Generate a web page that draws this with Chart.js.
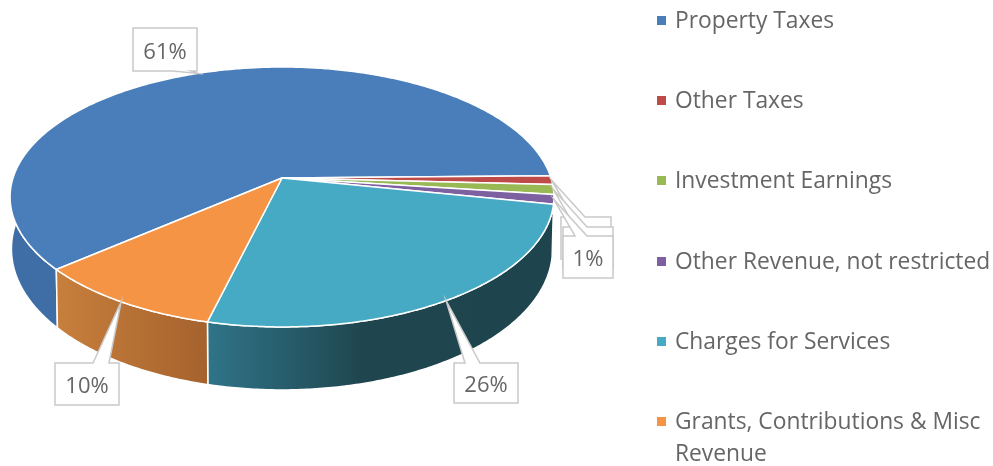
<!DOCTYPE html>
<html>
<head>
<meta charset="utf-8">
<script src="https://cdn.jsdelivr.net/npm/chart.js@4"></script>
<style>
  html, body { margin: 0; padding: 0; background: #fff; }
  canvas { display: block; }
</style>
</head>
<body>
<canvas id="myChart" width="993" height="466"></canvas>
<script>
const categories = [
  "Property Taxes",
  "Other Taxes",
  "Investment Earnings",
  "Other Revenue, not restricted",
  "Charges for Services",
  ["Grants, Contributions & Misc", "Revenue"],
];
const shares = [61, 1.1, 1.2, 1.2, 25.6, 9.9];
const topColors = ["#4a7ebb", "#be4b48", "#98b954", "#7d60a0", "#46aac4", "#f59444"];
const wallColors = [
  ["#3f6ea6", "#3f6ea6"],
  null,
  null,
  null,
  ["#2f7488", "#1f464f", "#1e444e"],
  ["#c77f3c", "#a5622d"],
];

// box of each data label: left, top, width, height, edge the pointer leaves from
const labelBoxes = [
  [133, 28, 64, 43, "bottom", 40, 58],
  [561, 217, 50, 42, "top", 12, 24],
  [563, 227, 50, 42, "top", 12, 24],
  [563, 236, 50, 42, "top", 12, 24],
  [454, 363, 64, 40, "top", 11, 26],
  [55, 363, 64, 42, "top", 38, 54],
];

const legendX = 657;
const legendRows = [20, 100, 180, 261, 341, 421];

// perspective of the disc, fitted to the ellipse in the picture
const apexX = 282;
const apexY = 178;
const radiusX = 269;
const radiusY = 101.2;
const tilt = -0.146;

function rim(angle) {
  const w = 1 + tilt * Math.sin(angle);
  return [
    apexX + (radiusX * Math.cos(angle)) / w,
    (apexY + radiusY * Math.sin(angle)) / w,
  ];
}

function floorRim(angle) {
  const [x, y] = rim(angle);
  return [apexX + (x - apexX) * 0.995, y + 50 + 13 * Math.sin(angle)];
}

function tracePoints(ctx, a, b, fn, first) {
  const steps = Math.max(2, Math.ceil(Math.abs(b - a) / 0.01));
  for (let i = 0; i <= steps; i++) {
    const [x, y] = fn(a + ((b - a) * i) / steps);
    if (i === 0 && first) ctx.moveTo(x, y);
    else ctx.lineTo(x, y);
  }
}

const tiltedPie = {
  id: "tiltedPie",
  beforeDatasetDraw(chart) {
    const ctx = chart.ctx;
    const arcs = chart.getDatasetMeta(0).data;
    const wallFrom = (10 * Math.PI) / 180;
    const wallTo = (188 * Math.PI) / 180;

    ctx.save();
    ctx.lineJoin = "round";

    arcs.forEach((arc, i) => {
      if (!wallColors[i]) return;
      // the rotation pushes the later slices past a full turn
      const turn = arc.startAngle >= Math.PI * 2 ? Math.PI * 2 : 0;
      const a = Math.max(arc.startAngle - turn, wallFrom);
      const b = Math.min(arc.endAngle - turn, wallTo);
      if (a >= b) return;
      const x0 = floorRim(b)[0];
      const x1 = floorRim(a)[0];
      const grad = ctx.createLinearGradient(Math.min(x0, x1), 0, Math.max(x0, x1), 0);
      wallColors[i].forEach((c, k) => {
        const stops = wallColors[i].length - 1;
        grad.addColorStop(k === 1 && stops === 2 ? 0.45 : k / stops, c);
      });
      ctx.beginPath();
      tracePoints(ctx, a, b, rim, true);
      tracePoints(ctx, b, a, floorRim, false);
      ctx.closePath();
      ctx.fillStyle = grad;
      ctx.fill();
      ctx.strokeStyle = "#fff";
      ctx.lineWidth = 1.5;
      ctx.stroke();
    });

    arcs.forEach((arc, i) => {
      ctx.beginPath();
      ctx.moveTo(apexX, apexY);
      tracePoints(ctx, arc.startAngle, arc.endAngle, rim, false);
      ctx.closePath();
      ctx.fillStyle = topColors[i];
      ctx.fill();
      ctx.strokeStyle = "#fff";
      ctx.lineWidth = 1.5;
      ctx.stroke();
    });

    ctx.restore();
    return false;
  },
  afterDatasetsDraw(chart) {
    const ctx = chart.ctx;
    const arcs = chart.getDatasetMeta(0).data;
    const total = shares.reduce((s, v) => s + v, 0);

    ctx.save();
    arcs.forEach((arc, i) => {
      const [tipX, tipY] = rim((arc.startAngle + arc.endAngle) / 2);
      const [x, y, w, h, edge, p0, p1] = labelBoxes[i];
      ctx.beginPath();
      ctx.moveTo(x, y);
      if (edge === "top") {
        ctx.lineTo(x + p0, y);
        ctx.lineTo(tipX, tipY);
        ctx.lineTo(x + p1, y);
      }
      ctx.lineTo(x + w, y);
      ctx.lineTo(x + w, y + h);
      if (edge === "bottom") {
        ctx.lineTo(x + p1, y + h);
        ctx.lineTo(tipX, tipY);
        ctx.lineTo(x + p0, y + h);
      }
      ctx.lineTo(x, y + h);
      ctx.closePath();
      ctx.fillStyle = "#fff";
      ctx.fill();
      ctx.strokeStyle = "#c9c9c9";
      ctx.lineWidth = 1.5;
      ctx.stroke();

      ctx.fillStyle = "#666";
      ctx.font = '22px "Open Sans"';
      ctx.textAlign = "center";
      ctx.textBaseline = "middle";
      ctx.fillText(Math.round((shares[i] / total) * 100) + "%", x + w / 2, y + h / 2 + 3);
    });

    // legend rows are further apart than the built-in legend can fit in this height
    ctx.textAlign = "left";
    ctx.font = '22.8px "Open Sans"';
    categories.forEach((label, i) => {
      const rowY = legendRows[i];
      ctx.fillStyle = topColors[i];
      ctx.fillRect(legendX, rowY - 4, 9, 9);
      ctx.fillStyle = "#666";
      [].concat(label).forEach((line, k) => {
        ctx.fillText(line, legendX + 18, rowY + 2 + k * 32);
      });
    });
    ctx.restore();
  },
};

new Chart(document.getElementById("myChart"), {
  type: "pie",
  plugins: [tiltedPie],
  data: {
    labels: categories,
    datasets: [{ data: shares, backgroundColor: topColors }],
  },
  options: {
    responsive: false,
    animation: false,
    rotation: 229.4,
    plugins: {
      legend: { display: false },
      tooltip: { enabled: false },
    },
  },
});
</script>
</body>
</html>
